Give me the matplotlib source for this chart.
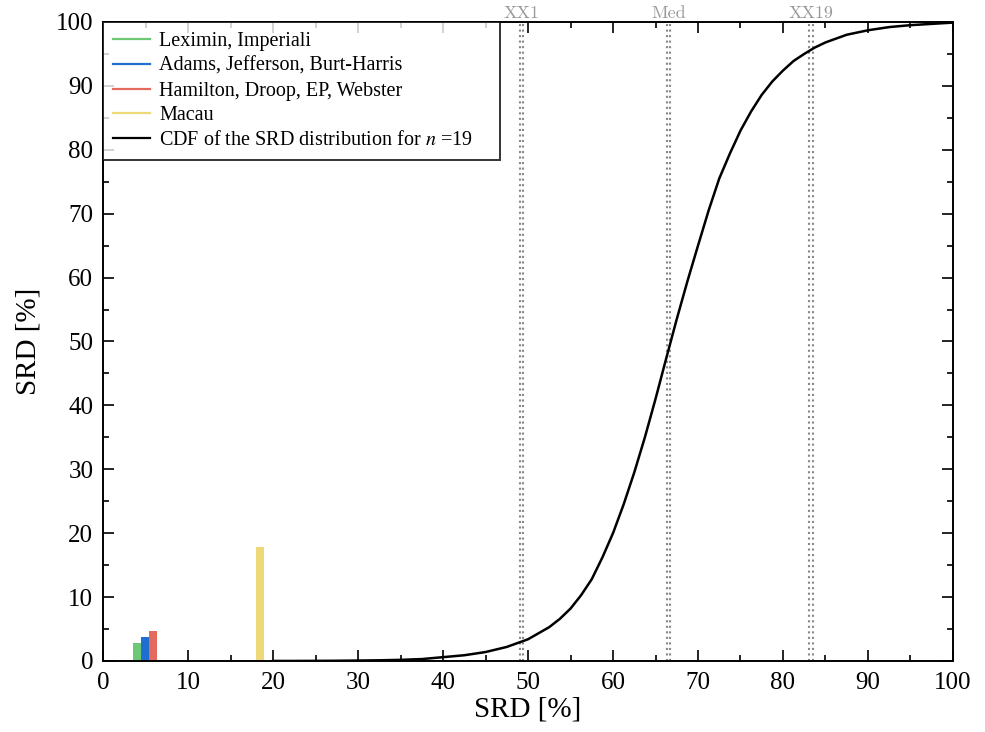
import numpy as np
import matplotlib
matplotlib.use("Agg")
import matplotlib.pyplot as plt
from matplotlib.lines import Line2D
from matplotlib.ticker import MultipleLocator

plt.rcParams['font.family'] = ['Liberation Serif', 'DejaVu Serif']
plt.rcParams['mathtext.fontset'] = 'stix'

# methods' SRD values (bars)
bar_x = [3.95, 4.9, 5.85, 18.45]
bar_h = [2.8, 3.7, 4.7, 17.8]
bar_colors = ['#6cc874', '#1f6fd0', '#e36a5c', '#eed97a']
bar_labels = ['Leximin, Imperiali', 'Adams, Jefferson, Burt-Harris',
              'Hamilton, Droop, EP, Webster', 'Macau']

# CDF of the SRD distribution
cdf_x = [20, 22.5, 25, 27.5, 30, 32.5, 35, 37.5, 40, 42.5, 45, 47.5, 50,
         52.5, 53.75, 55, 56.25, 57.5, 58.75, 60, 61.25, 62.5, 63.75, 65,
         66.25, 67.5, 68.75, 70, 71.25, 72.5, 73.75, 75, 76.25, 77.5, 78.75,
         80, 81.25, 82.5, 83.75, 85, 87.5, 90, 92.5, 95, 97.5, 100]
cdf_y = [0.01, 0.01, 0.02, 0.04, 0.07, 0.11, 0.18, 0.3, 0.6, 0.9, 1.4, 2.2,
         3.4, 5.3, 6.6, 8.2, 10.3, 12.8, 16.2, 20, 24.5, 29.5, 35, 41,
         47.3, 53.5, 59.4, 65, 70.5, 75.5, 79.4, 83, 86, 88.6, 90.7,
         92.4, 93.9, 95, 96, 96.8, 98, 98.7, 99.2, 99.5, 99.7, 99.9]

# reference lines (pairs) and labels
ref_pos = [(49.0, 49.4), (66.3, 66.7), (83.1, 83.5)]
ref_labels = ['XX1', 'Med', 'XX19']

fig = plt.figure(figsize=(9.85, 7.32), dpi=100)
ax = fig.add_axes([0.1046, 0.097, 0.8629, 0.873])

ax.bar(bar_x, bar_h, width=0.95, color=bar_colors, zorder=2)
ax.plot(cdf_x, cdf_y, color='black', lw=1.8, zorder=3)

for (a, b), lab in zip(ref_pos, ref_labels):
    ax.axvline(a, color='#888888', ls=':', lw=1.5, zorder=1)
    ax.axvline(b, color='#888888', ls=':', lw=1.5, zorder=1)
    ax.text((a + b) / 2, 100.2, lab, ha='center', va='bottom', color='#999999',
            fontsize=13, fontfamily='cmr10')

ax.set_xlim(0, 100)
ax.set_ylim(0, 100)
ax.xaxis.set_major_locator(MultipleLocator(10))
ax.xaxis.set_minor_locator(MultipleLocator(5))
ax.yaxis.set_major_locator(MultipleLocator(10))
ax.yaxis.set_minor_locator(MultipleLocator(5))
ax.tick_params(which='both', direction='in', top=True, right=True, width=1.2,
               labelsize=18)
ax.tick_params(axis='x', which='major', length=8, pad=8)
ax.tick_params(axis='y', which='major', length=8, pad=7)
ax.tick_params(which='minor', length=4)
for s in ax.spines.values():
    s.set_linewidth(1.4)

ax.set_xlabel('SRD [%]', fontsize=21, labelpad=2)
ax.set_ylabel('SRD [%]', fontsize=21, labelpad=10)

handles = [Line2D([], [], color=c, lw=1.6) for c in bar_colors]
handles.append(Line2D([], [], color='black', lw=1.6))
labels = bar_labels + ['CDF of the SRD distribution for $n$ =19']
leg = ax.legend(handles, labels, loc='upper left', fontsize=14.5, frameon=True,
                bbox_to_anchor=(0, 1, 0.467, 0), mode='expand',
                fancybox=False, edgecolor='black', borderaxespad=0,
                handlelength=1.85, handletextpad=0.45, labelspacing=0.28,
                borderpad=0.5)
leg.get_frame().set_linewidth(1.4)

fig.savefig('out.png', dpi=100)
